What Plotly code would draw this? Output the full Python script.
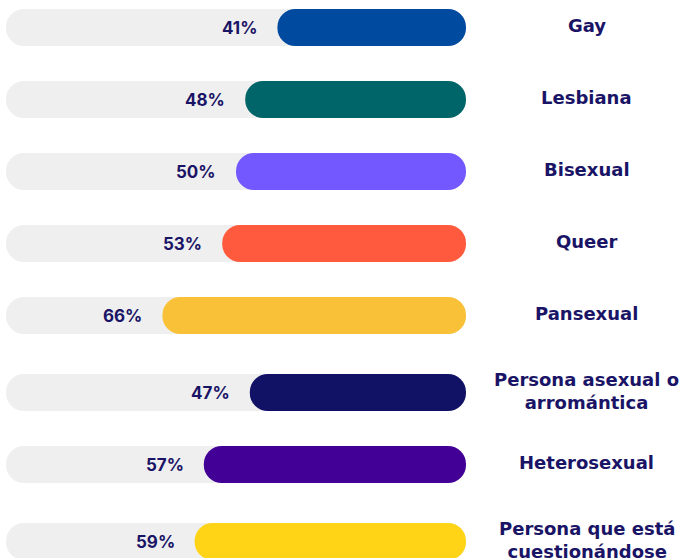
import plotly.graph_objects as go

categories = ["Gay", "Lesbiana", "Bisexual", "Queer", "Pansexual",
              "Persona asexual o<br>arromántica", "Heterosexual",
              "Persona que está<br>cuestionándose"]
values = [41, 48, 50, 53, 66, 47, 57, 59]
colors = ["#004AA0", "#006569", "#7357FF", "#FF5A3D", "#F8C137",
          "#111166", "#430096", "#FFD316"]
full = 100
track_color = "#EFEFEF"
text_color = "#1A1466"
font = "DejaVu Sans"

# row positions: two-line labels get a little extra room before them
extra = 5 / 72
ys = []
pos = 0.0
for i, c in enumerate(categories):
    if i > 0:
        pos += 1 + extra * c.count("<br>")
    ys.append(pos)

fig = go.Figure()
fig.add_trace(go.Bar(y=ys, x=[full] * len(ys), base=[0] * len(ys), orientation="h",
                     marker=dict(color=track_color, cornerradius="50%", line=dict(width=0)),
                     hoverinfo="skip", showlegend=False))
fig.add_trace(go.Bar(y=ys, x=values, base=[full - v for v in values], orientation="h",
                     marker=dict(color=colors, cornerradius="50%", line=dict(width=0)),
                     hoverinfo="skip", showlegend=False))

annotations = []
for y, c, v in zip(ys, categories, values):
    annotations.append(dict(x=full - v, y=y, xref="x", yref="y", text=f"<b>{v}%</b>",
                            showarrow=False, xanchor="right", xshift=-18,
                            font=dict(family="Inter", size=17, color=text_color)))
    annotations.append(dict(x=1.263, y=y, xref="paper", yref="y", text=f"<b>{c}</b>",
                            showarrow=False, xanchor="center", align="center", yshift=2,
                            font=dict(family=font, size=18, color=text_color)))

fig.update_layout(
    width=679, height=558,
    margin=dict(l=6, r=213, t=0, b=0),
    paper_bgcolor="white", plot_bgcolor="white",
    barmode="overlay", bargap=0.486,
    xaxis=dict(range=[0, full], visible=False, fixedrange=True),
    yaxis=dict(range=[7.368, -0.382], visible=False, fixedrange=True),
    annotations=annotations,
    font=dict(family=font, color=text_color),
)

fig.write_html("out.html", config={"displayModeBar": False},
               post_script="document.body.style.margin='0';")
